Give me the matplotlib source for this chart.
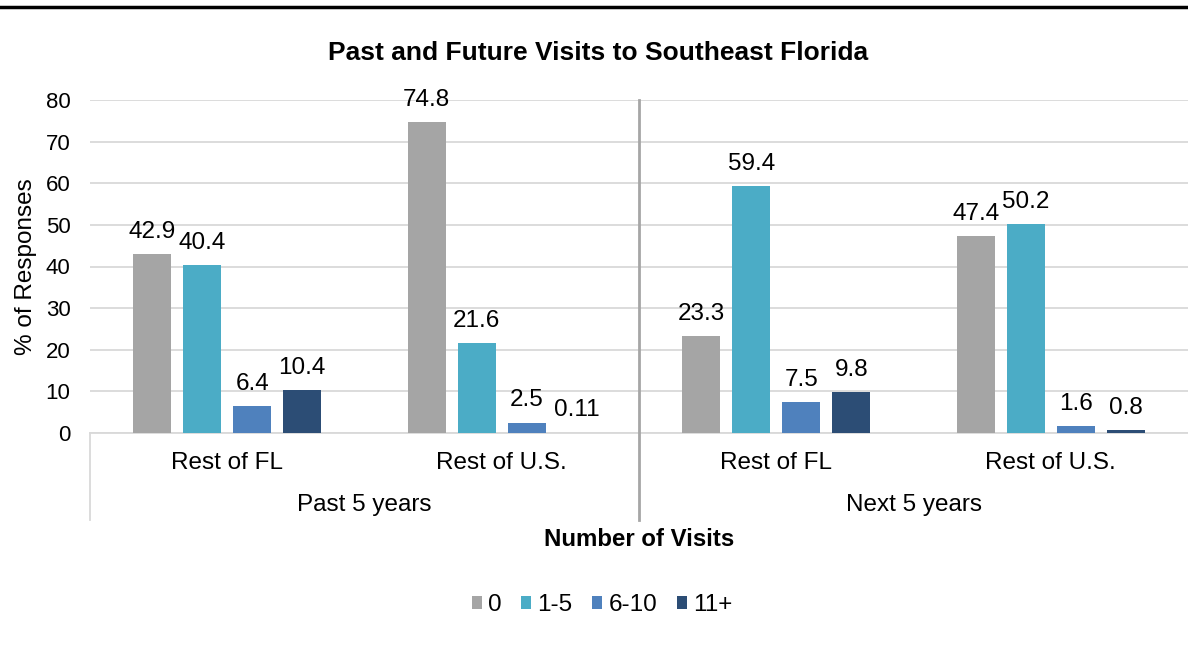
import matplotlib.pyplot as plt
from matplotlib.lines import Line2D
import matplotlib.transforms as mtransforms
import numpy as np

plt.rcParams['font.family'] = ['Liberation Sans', 'DejaVu Sans']

# data
periodos = ['Past 5 years', 'Next 5 years']
destinos = ['Rest of FL', 'Rest of U.S.', 'Rest of FL', 'Rest of U.S.']
series = ['0', '1-5', '6-10', '11+']
v_0 = [42.9, 74.8, 23.3, 47.4]
v_1_5 = [40.4, 21.6, 59.4, 50.2]
v_6_10 = [6.4, 2.5, 7.5, 1.6]
v_11 = [10.4, 0.11, 9.8, 0.8]
etiquetas = [['42.9', '74.8', '23.3', '47.4'],
             ['40.4', '21.6', '59.4', '50.2'],
             ['6.4', '2.5', '7.5', '1.6'],
             ['10.4', '0.11', '9.8', '0.8']]
colores = ['#A5A5A5', '#4BACC6', '#4F81BD', '#2C4D75']

fig = plt.figure(figsize=(11.88, 6.57), dpi=100)
ax = fig.add_axes([90 / 1188, 1 - 433 / 657, 1 - 90 / 1188, 333 / 657])

x = np.arange(len(destinos))
paso = 0.182
ancho = 0.138
valores = [v_0, v_1_5, v_6_10, v_11]
for i, vals in enumerate(valores):
    pos = x + (i - 1.5) * paso
    ax.bar(pos, vals, width=ancho, color=colores[i], label=series[i], zorder=3)
    for p, v, t in zip(pos, vals, etiquetas[i]):
        ax.annotate(t, (p, v), xytext=(0, 8), textcoords='offset points',
                    ha='center', va='bottom', fontsize=17.5)

ax.set_xlim(-0.5, 3.5)
ax.set_ylim(0, 80)
ax.set_yticks(range(0, 81, 10))
ax.tick_params(axis='y', length=0, labelsize=16, pad=14)
ax.set_xticks([])
ax.grid(axis='y', color='#D9D9D9', linewidth=1.3, zorder=0)
for s in ['top', 'right', 'left']:
    ax.spines[s].set_visible(False)
ax.spines['bottom'].set_color('#D9D9D9')
ax.spines['bottom'].set_linewidth(1.3)
ax.set_ylabel('% of Responses', fontsize=17.5, labelpad=6)

trans = mtransforms.blended_transform_factory(ax.transData, ax.transAxes)
for xi, d in zip(x, destinos):
    ax.text(xi, -0.09, d, transform=trans, ha='center', va='center', fontsize=17.5)
for j, per in enumerate(periodos):
    ax.text(0.5 + 2 * j, -0.216, per, transform=trans, ha='center', va='center', fontsize=17.5)

ax.plot([-0.5, -0.5], [0, -0.261], transform=trans, color='#D9D9D9', lw=1.3, clip_on=False)
ax.plot([1.5, 1.5], [1, -0.261], transform=trans, color='#A6A6A6', lw=2, clip_on=False, zorder=4)

ax.text(0.5, -0.321, 'Number of Visits', transform=ax.transAxes, ha='center', va='center',
        fontsize=17.3, fontweight='bold')

fig.text(598 / 1188, 1 - 53 / 657, 'Past and Future Visits to Southeast Florida',
         ha='center', va='center', fontsize=19, fontweight='bold')

ax.legend(loc='center', bbox_to_anchor=(512 / 1098, -0.517), ncol=4, frameon=False,
          fontsize=17.5, handlelength=0.42, handleheight=0.42, handletextpad=0.25,
          columnspacing=0.8)

fig.add_artist(Line2D([0, 1], [1 - 7 / 657, 1 - 7 / 657], transform=fig.transFigure,
                      color='black', lw=2.5))

plt.savefig('out.png', dpi=100)
